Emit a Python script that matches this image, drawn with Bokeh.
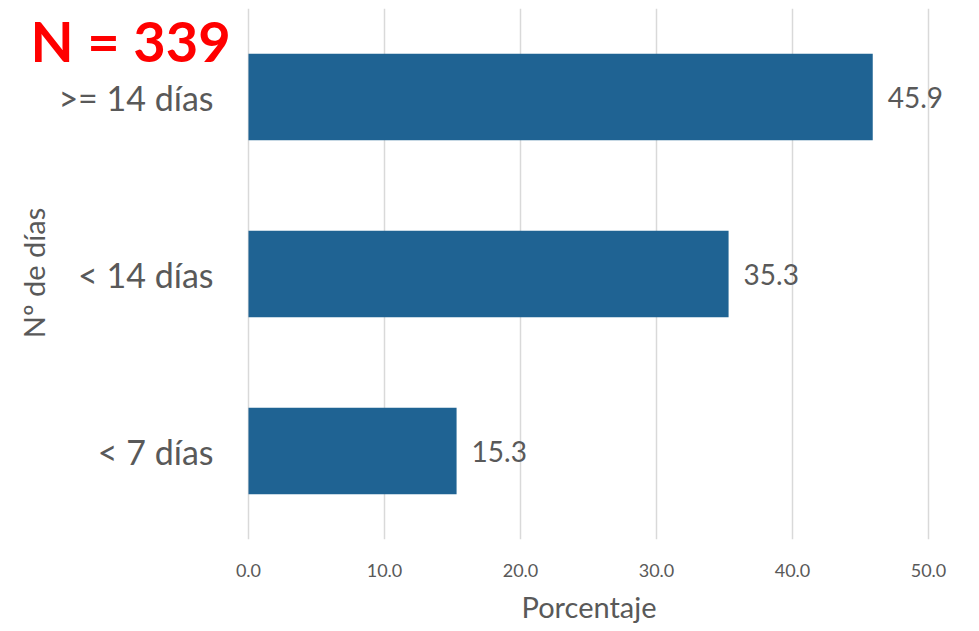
import math
from bokeh.plotting import figure
from bokeh.models import ColumnDataSource, FactorRange, Range1d, FixedTicker, Label, Title
from bokeh.core.properties import value
from bokeh.embed import file_html
from bokeh.resources import INLINE

categories = ["< 7 días", "< 14 días", ">= 14 días"]
values = [15.3, 35.3, 45.9]
value_labels = ["15.3", "35.3", "45.9"]
x_ticks = [0, 10, 20, 30, 40, 50]
x_tick_labels = ["0.0", "10.0", "20.0", "30.0", "40.0", "50.0"]

FONT = "Lato"
GREY = "#595959"

W, H = 963, 631
LEFT_PAD = 248          # pixels left of value 0 (room for category labels)
PX_PER_UNIT = 13.6
FRAME_H = 533

src = ColumnDataSource(dict(cat=categories, val=values, lab=value_labels))

p = figure(width=W, height=H, output_backend="svg", toolbar_location=None,
           y_range=FactorRange(*categories, range_padding=0),
           x_range=Range1d(-LEFT_PAD / PX_PER_UNIT, (W - LEFT_PAD) / PX_PER_UNIT),
           min_border_left=0, min_border_right=0, min_border_top=8, min_border_bottom=90)
p.outline_line_color = None
p.yaxis.visible = False

p.hbar(y="cat", right="val", left=0, height=0.49, source=src, color="#1F6393", line_color=None)

# value labels
p.text(x="val", y="cat", text="lab", source=src, x_offset=15, text_baseline="middle",
       text_font=value(FONT), text_font_size="28px", text_color=GREY)

# category labels (left of the zero line)
p.text(x=0, y="cat", text="cat", source=src, x_offset=-35, text_align="right",
       text_baseline="middle", text_font=value(FONT), text_font_size="34px", text_color=GREY)

p.xaxis.ticker = FixedTicker(ticks=x_ticks)
p.xaxis.major_label_overrides = dict(zip(x_ticks, x_tick_labels))
p.xaxis.axis_line_color = None
p.xaxis.major_tick_line_color = None
p.xaxis.minor_tick_line_color = None
p.xaxis.major_label_text_font = FONT
p.xaxis.major_label_text_font_size = "18px"
p.xaxis.major_label_text_color = GREY
p.xaxis.major_label_standoff = 18

p.xgrid.ticker = FixedTicker(ticks=x_ticks)
p.xgrid.grid_line_color = "#d9d9d9"
p.xgrid.grid_line_width = 1.5
p.ygrid.grid_line_color = None

# x axis title, centred under the 0-50 scale
p.add_layout(Title(text="Porcentaje", align="left", offset=521, text_font=FONT,
                   text_font_size="29px", text_font_style="normal", text_color=GREY,
                   standoff=15), "below")

# y axis title
p.add_layout(Label(x=33, y=FRAME_H / 2, x_units="screen", y_units="screen", text="Nº de días",
                   angle=math.pi / 2, text_align="center", text_baseline="middle",
                   text_font=FONT, text_font_size="29px", text_color=GREY))

# N label
p.add_layout(Label(x=30, y=FRAME_H, x_units="screen", y_units="screen", text="N = 339",
                   text_font=FONT, text_font_size="56px", text_font_style="bold",
                   text_color="#FF0000", text_baseline="top"))

open("out.html", "w").write(file_html(p, INLINE))
